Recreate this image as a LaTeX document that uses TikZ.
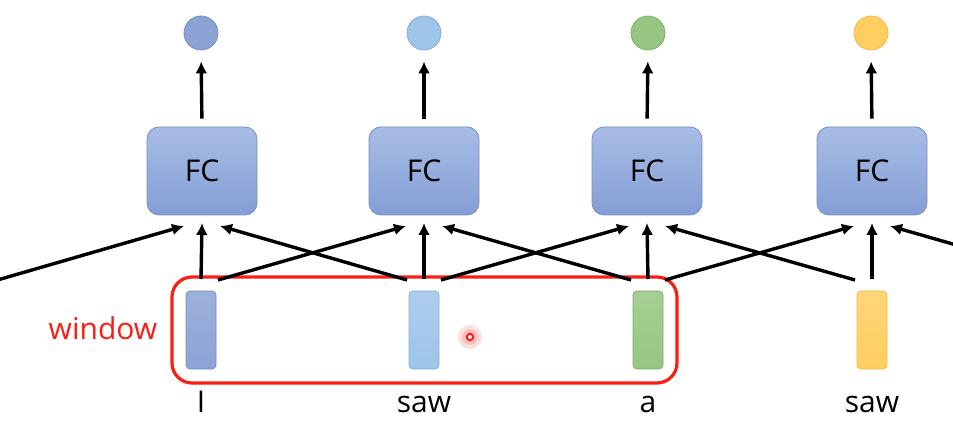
\documentclass[tikz,border=0pt]{standalone}
\usepackage{fontspec}
\setmainfont{Open Sans}
\usetikzlibrary{arrows.meta}
\definecolor{cA}{RGB}{140,163,214}
\definecolor{cAb}{RGB}{118,142,200}
\definecolor{cB}{RGB}{158,196,234}
\definecolor{cBb}{RGB}{135,175,220}
\definecolor{cC}{RGB}{150,198,130}
\definecolor{cCb}{RGB}{125,175,105}
\definecolor{cD}{RGB}{255,206,96}
\definecolor{cDb}{RGB}{240,185,70}
\definecolor{fcTop}{RGB}{168,188,228}
\definecolor{fcBot}{RGB}{132,158,214}
\definecolor{fcBd}{RGB}{118,142,200}
\definecolor{winred}{RGB}{250,30,20}
\tikzset{
  outdot/.style={circle,minimum size=34pt,inner sep=0pt,line width=0.8pt},
  fcbox/.style={rectangle,rounded corners=12pt,minimum width=110pt,minimum height=88pt,
    top color=fcTop,bottom color=fcBot,draw=fcBd,line width=0.8pt,
    font=\fontsize{30}{30}\selectfont,inner sep=0pt},
  vecbox/.style={rectangle,rounded corners=4pt,minimum width=30pt,minimum height=78pt,
    inner sep=0pt,line width=0.8pt},
  word/.style={anchor=base,font=\fontsize{30}{30}\selectfont,inner sep=0pt},
  arr/.style={line width=3.4pt,-{Latex[length=12pt,width=12pt]}},
}
\begin{document}
\begin{tikzpicture}[x=1pt,y=-1pt]
\useasboundingbox (0,0) rectangle (953,430);
% output dots
\node[outdot,fill=cA,draw=cAb] (o1) at (201,33) {};
\node[outdot,fill=cB,draw=cBb] (o2) at (424,33) {};
\node[outdot,fill=cC,draw=cCb] (o3) at (648,33) {};
\node[outdot,fill=cD,draw=cDb] (o4) at (871,33) {};
% FC boxes
\node[fcbox] (f1) at (202,171) {FC};
\node[fcbox] (f2) at (424,171) {FC};
\node[fcbox] (f3) at (647,171) {FC};
\node[fcbox] (f4) at (872,171) {FC};
% input vectors
\node[vecbox,top color=cA!85!white,bottom color=cA,draw=cAb] (r1) at (201,330) {};
\node[vecbox,top color=cB!85!white,bottom color=cB,draw=cBb] (r2) at (424,330) {};
\node[vecbox,top color=cC!85!white,bottom color=cC,draw=cCb] (r3) at (648,330) {};
\node[vecbox,top color=cD!85!white,bottom color=cD,draw=cDb] (r4) at (872,330) {};
% words
\node[word] (w1) at (201,412) {I};
\node[word] (w2) at (424,412) {saw};
\node[word] (w3) at (648,412) {a};
\node[word] (w4) at (872,412) {saw};
% window
\node[draw=winred,line width=3.2pt,rounded corners=20pt,minimum width=505pt,minimum height=106pt,inner sep=0pt] (win) at (424.5,330) {};
\node[word,text=winred] (wl) at (103,339) {window};
% laser pointer mark
\fill[red!12] (470,337) circle (12pt);
\fill[red!25] (470,337) circle (8pt);
\draw[winred,line width=2pt,fill=white] (470,337) circle (3.2pt);
% FC -> outputs
\foreach \i in {1,2,3,4}{
  \draw[arr,shorten <=8pt,shorten >=11pt] (f\i.north) -- (o\i.south);
}
% coordinates for connectors
\foreach \i/\x in {1/201,2/424,3/648,4/872}{
  \coordinate (s\i) at (\x,279);
  \coordinate (sl\i) at (\x-17,280);
  \coordinate (sr\i) at (\x+17,280);
}
\foreach \i/\x in {1/202,2/424,3/647,4/872}{
  \coordinate (t\i) at (\x,223);
  \coordinate (tl\i) at (\x-18,226);
  \coordinate (tr\i) at (\x+18,226);
}
\coordinate (s0) at (-6,281);
\coordinate (s5) at (1078,280);
% vertical
\foreach \i in {1,2,3,4}{ \draw[arr] (s\i) -- (t\i); }
% diagonals
\draw[arr] (sr1) -- (tl2);
\draw[arr] (sr2) -- (tl3);
\draw[arr] (sr3) -- (tl4);
\draw[arr] (sl2) -- (tr1);
\draw[arr] (sl3) -- (tr2);
\draw[arr] (sl4) -- (tr3);
\draw[arr] (s0) -- (tl1);
\draw[arr] (s5) -- (tr4);
\end{tikzpicture}
\end{document}
